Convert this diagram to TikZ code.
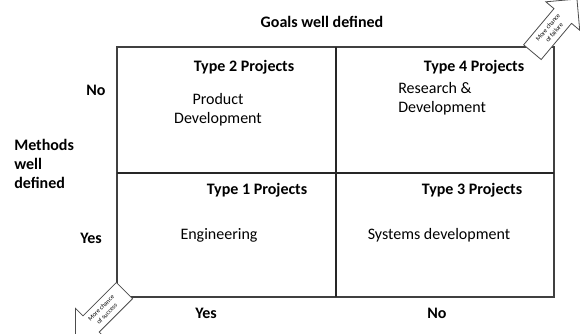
\documentclass[tikz,border=0pt]{standalone}
\usepackage{fontspec}
\setmainfont{Carlito}
\usepackage{xcolor}
\usetikzlibrary{shapes.arrows}

\tikzset{
  lbl/.style={inner sep=0.75pt, font=\fontsize{12}{14}\selectfont},
  hdr/.style={inner sep=0.75pt, font=\fontsize{12}{14}\selectfont\bfseries},
  bigarrow/.style={single arrow, draw=black!70, fill=white, line width=0.6pt,
    minimum height=52pt, single arrow head extend=8pt, inner xsep=1.5pt, inner ysep=3.5pt,
    align=center, font=\fontsize{4.8}{6.2}\selectfont}
}

\begin{document}
\begin{tikzpicture}[x=0.75pt,y=0.75pt,yscale=-1,xscale=1]
\useasboundingbox (0,0) rectangle (580,334);

% grid
\draw [color=black!75, line width=0.9pt]  (117,47) -- (554,47) -- (554,297) -- (117,297) -- cycle ;
\draw [color=black!85, line width=1.3pt]  (336,47) -- (336,297) ;
\draw [color=black!85, line width=1.3pt]  (117,173) -- (554,173) ;

% axis labels
\draw (322,22) node [hdr] (goals) {Goals well defined};
\draw (13,164) node [hdr, anchor=west, align=left] (methods) {Methods\\well\\defined};
\draw (96,90) node [hdr] (rowno) {No};
\draw (91,238) node [hdr] (rowyes) {Yes};
\draw (206,313) node [hdr] (colyes) {Yes};
\draw (437,313) node [hdr] (colno) {No};

% quadrants
\draw (244,67) node [hdr] (type2) {Type 2 Projects};
\draw (218,110) node [lbl, align=center] (prod) {Product\\Development};
\draw (474,67) node [hdr] (type4) {Type 4 Projects};
\draw (397,99) node [lbl, anchor=west, align=left] (research) {Research \&\\Development};
\draw (257,190) node [hdr] (type1) {Type 1 Projects};
\draw (219,235) node [lbl] (eng) {Engineering};
\draw (472,190) node [hdr] (type3) {Type 3 Projects};
\draw (439,235) node [lbl] (sys) {Systems development};

% chance arrows
\draw (551,30) node [bigarrow, rotate=50] (failure) {More chance\\of failure};
\draw (104,311) node [bigarrow, rotate=45, shape border rotate=180] (success) {More chance\\of success};

\end{tikzpicture}
\end{document}
